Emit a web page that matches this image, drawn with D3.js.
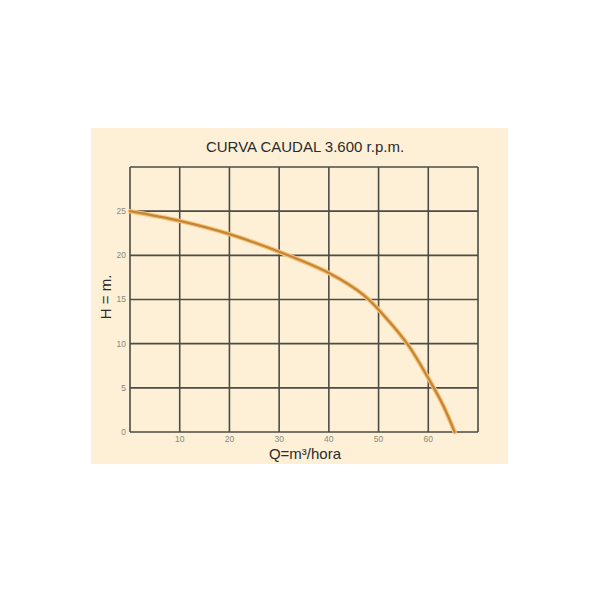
<!DOCTYPE html>
<html><head><meta charset="utf-8">
<script src="https://cdn.jsdelivr.net/npm/d3@7"></script>
<style>body{margin:0;background:#fff}</style>
</head><body>
<svg id="c" width="600" height="600"></svg>
<script>
const title = "CURVA CAUDAL 3.600 r.p.m.";
const xLabel = "Q=m³/hora";
const yLabel = "H = m.";
const xTicks = [10, 20, 30, 40, 50, 60];
const yTicks = [0, 5, 10, 15, 20, 25];
const flowQ = [0, 10, 20, 30, 40, 47, 52, 56, 60, 63, 65.3];
const headH = [25, 23.9, 22.4, 20.4, 18, 15.5, 12.6, 9.8, 6.1, 3, 0];

const svg = d3.select("#c");
const L = 130, R = 478, T = 167, B = 432;
const x = d3.scaleLinear().domain([0, 70]).range([L, R]);
const y = d3.scaleLinear().domain([0, 30]).range([B, T]);

svg.append("rect").attr("x", 91).attr("y", 128).attr("width", 417).attr("height", 336).attr("fill", "#fdf0d6");

const grid = svg.append("g").attr("stroke", "#4d4b44").attr("stroke-width", 1.6);
d3.range(0, 71, 10).forEach(v => grid.append("line").attr("x1", x(v)).attr("x2", x(v)).attr("y1", T).attr("y2", B));
d3.range(0, 31, 5).forEach(v => grid.append("line").attr("x1", L).attr("x2", R).attr("y1", y(v)).attr("y2", y(v)));

svg.append("g").selectAll("text").data(yTicks).join("text")
  .attr("x", L - 4).attr("y", d => y(d)).attr("dy", "0.35em").attr("text-anchor", "end")
  .attr("font-family", "Liberation Sans, Arial, sans-serif").attr("font-size", 8.5).attr("fill", "#8a877e").text(d => d);
svg.append("g").selectAll("text").data(xTicks).join("text")
  .attr("x", d => x(d)).attr("y", B + 10).attr("text-anchor", "middle")
  .attr("font-family", "Liberation Sans, Arial, sans-serif").attr("font-size", 8.5).attr("fill", "#8a877e").text(d => d);

const line = d3.line().x((d, i) => x(flowQ[i])).y((d, i) => y(headH[i])).curve(d3.curveCatmullRom.alpha(0.5));
svg.append("path").attr("d", line(flowQ)).attr("fill", "none").attr("stroke", "#f6c271").attr("stroke-width", 4.5).attr("stroke-linecap", "round");
svg.append("path").attr("d", line(flowQ)).attr("fill", "none").attr("stroke", "#c4853a").attr("stroke-width", 2.2).attr("stroke-linecap", "round");

svg.append("text").attr("x", 305).attr("y", 152).attr("text-anchor", "middle")
  .attr("font-family", "Liberation Sans, Arial, sans-serif").attr("font-size", 15).attr("fill", "#2b2b2b").text(title);
svg.append("text").attr("x", 305).attr("y", 459).attr("text-anchor", "middle")
  .attr("font-family", "Liberation Sans, Arial, sans-serif").attr("font-size", 15).attr("fill", "#2b2b2b").text(xLabel);
svg.append("text").attr("transform", "translate(111,297) rotate(-90)").attr("text-anchor", "middle")
  .attr("font-family", "Liberation Sans, Arial, sans-serif").attr("font-size", 15).attr("fill", "#2b2b2b").text(yLabel);
</script>
</body></html>
